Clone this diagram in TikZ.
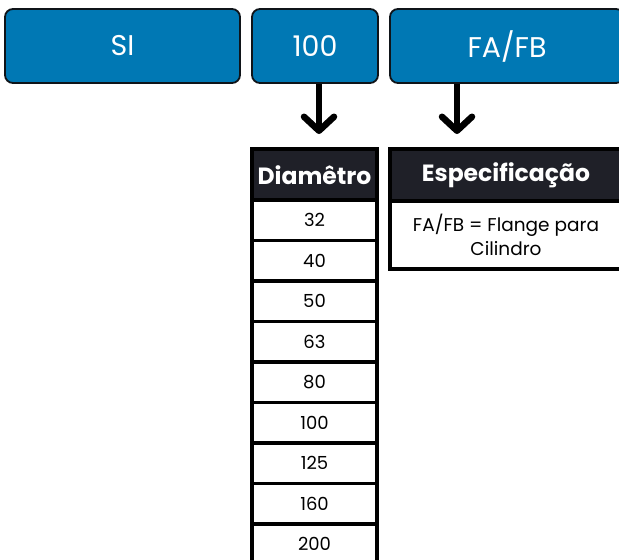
\documentclass[tikz,border=0pt]{standalone}
\usepackage{fontspec}
\setmainfont{Poppins}
\usetikzlibrary{arrows.meta}
\definecolor{boxblue}{RGB}{0,120,180}
\definecolor{hdark}{RGB}{31,32,40}
\definecolor{bordark}{RGB}{15,20,25}
\tikzset{
  topbox/.style={draw=bordark, line width=1.8pt, fill=boxblue, rounded corners=8pt,
    text=white, font=\fontsize{28.5}{32}\selectfont, inner sep=0pt, outer sep=0pt},
  hdr/.style={draw=black, line width=3.5pt, fill=hdark, text=white,
    font=\fontsize{23.5}{26}\selectfont\bfseries, inner sep=0pt, outer sep=0pt},
  cell/.style={draw=black, line width=3.5pt, fill=white, text=black,
    font=\fontsize{18}{24}\selectfont, inner sep=0pt, outer sep=0pt,
    minimum width=125pt, minimum height=40.5pt},
  arr/.style={line width=6.5pt, line cap=butt, line join=round,
    -{Straight Barb[length=14pt,width=30pt,line cap=round,line join=round]}},
}
\begin{document}
\begin{tikzpicture}[x=1pt,y=-1pt]
\useasboundingbox (0,0) rectangle (619,560);
\clip (0,0) rectangle (619,560);
% top boxes
\node[topbox, minimum width=235pt, minimum height=74pt] (si) at (122.5,46) {SI};
\node[topbox, minimum width=126pt, minimum height=74pt] (d100) at (315,46) {100};
\node[topbox, minimum width=234pt, minimum height=74pt] (fafb) at (507,46) {FA/FB};
% arrow ends
\coordinate (a1) at (319,134);
\coordinate (a2) at (457,134);
\draw[arr] (319,83.5) -- (a1);
\draw[arr] (457,83.5) -- (a2);
% Diametro table
\node[hdr, minimum width=125pt, minimum height=52pt] (hd) at (314.5,175) {Diamêtro};
\node[cell] (r1) at (314.5,220) {32};
\node[cell] (r2) at (314.5,260.5) {40};
\node[cell] (r3) at (314.5,301) {50};
\node[cell] (r4) at (314.5,341.5) {63};
\node[cell] (r5) at (314.5,382) {80};
\node[cell] (r6) at (314.5,422.5) {100};
\node[cell] (r7) at (314.5,463) {125};
\node[cell] (r8) at (314.5,503.5) {160};
\node[cell] (r9) at (314.5,544) {200};
% Especificacao table
\node[hdr, minimum width=232pt, minimum height=52pt] (he) at (506,175) {Especificação};
\node[cell, minimum width=232pt, minimum height=68pt, align=center,
  font=\fontsize{18.5}{24}\selectfont] (be) at (506,235)
  {FA/FB = Flange para\\Cilindro};
\end{tikzpicture}
\end{document}
